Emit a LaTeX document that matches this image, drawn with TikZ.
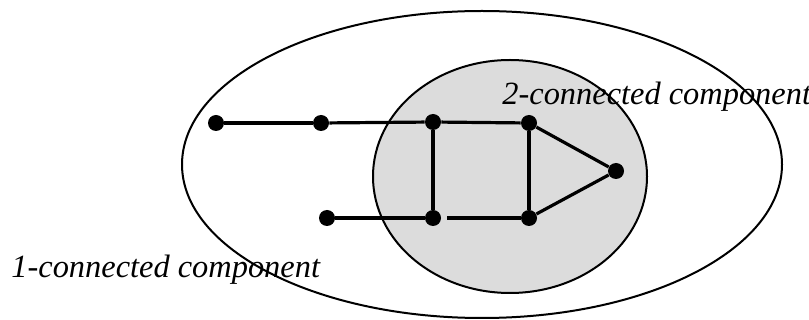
\documentclass[tikz,border=0pt]{standalone}
\usepackage{fontspec}
\setmainfont{Liberation Serif}
\begin{document}
\begin{tikzpicture}[x=0.5pt, y=-0.5pt, vertex/.style={circle, fill=black, inner sep=0pt, minimum size=8pt}, edge/.style={line width=1.6pt}, caption/.style={font=\itshape\fontsize{16.2}{19}\selectfont, anchor=base west, inner sep=0pt}]
		\useasboundingbox (0,0) rectangle (809,320);
		% Components
		\draw[line width=1pt] (482,164.5) ellipse [x radius=300, y radius=153.5];
		\draw[line width=1pt, fill={rgb,255:red,220;green,220;blue,220}] (510,176.5) ellipse [x radius=137, y radius=116.5];
		\node[vertex] (Tail end) at (216,123) {};
		\node[vertex] (Tail) at (321,123) {};
		\node[vertex] (Spur) at (327,218) {};
		\node[vertex] (Square TL) at (433,122) {};
		\node[vertex] (Square TR) at (529,123) {};
		\node[vertex] (Square BL) at (433,218) {};
		\node[vertex] (Square BR) at (529,218) {};
		\node[vertex] (Tip) at (616,171) {};
		% Edges
		\draw[edge] (Tail end) -- (Tail);
		\draw[edge] (Tail) -- (Square TL);
		\draw[edge] (Spur) -- (Square BL);
		\draw[edge] (Square TL) -- (Square TR);
		\draw[edge] (Square TL) -- (Square BL);
		\draw[edge, shorten <=3pt] (Square BL) -- (Square BR);
		\draw[edge] (Square TR) -- (Square BR);
		\draw[edge] (Square TR) -- (Tip);
		\draw[edge] (Square BR) -- (Tip);
		% Labels
		\node[caption] (Two) at (502,105) {2-connected component};
		\node[caption] (One) at (11,278) {1-connected component};
	\end{tikzpicture}
\end{document}
